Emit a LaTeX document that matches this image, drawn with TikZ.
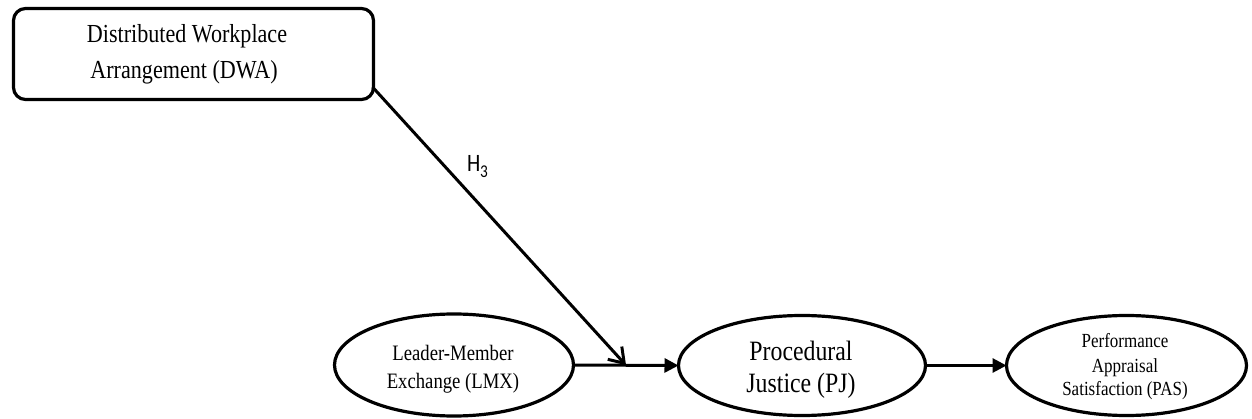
\documentclass[tikz,border=0pt]{standalone}
\usepackage{fontspec}
\usetikzlibrary{arrows.meta,calc,shapes.geometric}
\newfontfamily\tnrfont[FakeStretch=0.85]{Liberation Serif}
\newfontfamily\calfont[FakeStretch=0.85]{Carlito}
\begin{document}
\begin{tikzpicture}[x=1pt,y=-1pt,
  every node/.style={inner sep=0pt, outer sep=0pt},
  box/.style={draw, line width=3.2pt, rounded corners=12pt, minimum width=360pt, minimum height=91pt},
  ell/.style={draw, ellipse, line width=3.2pt},
  txt/.style={anchor=base, font=\tnrfont},
  conn/.style={line width=3pt},
  filled/.style={-{Triangle[length=14pt,width=14pt]}},
  barb/.style={-{Straight Barb[length=14pt,width=19pt]}}]
\useasboundingbox (0,0) rectangle (1252,419);
% nodes
\node[box] (dwa) at (193.5,54) {};
\node[txt, font=\tnrfont\fontsize{26}{30}\selectfont] (dwa1) at (187,43) {Distributed Workplace};
\node[txt, font=\tnrfont\fontsize{26}{30}\selectfont] (dwa2) at (184,79) {Arrangement (DWA)};

\node[ell, minimum width=239pt, minimum height=102pt] (lmx) at (454,365) {};
\node[txt, font=\tnrfont\fontsize{22}{26}\selectfont] (lmx1) at (453,360) {Leader-Member};
\node[txt, font=\tnrfont\fontsize{22}{26}\selectfont] (lmx2) at (453,388) {Exchange (LMX)};

\node[ell, minimum width=247pt, minimum height=100pt] (pj) at (802,365.5) {};
\node[txt, font=\tnrfont\fontsize{28}{31}\selectfont] (pj1) at (801,360) {Procedural};
\node[txt, font=\tnrfont\fontsize{28}{31}\selectfont] (pj2) at (801,392) {Justice (PJ)};

\node[ell, minimum width=240pt, minimum height=100pt] (pas) at (1126.5,365.5) {};
\node[txt, font=\tnrfont\fontsize{20}{24}\selectfont] (pas1) at (1125,347) {Performance};
\node[txt, font=\tnrfont\fontsize{20}{24}\selectfont] (pas2) at (1125,372) {Appraisal};
\node[txt, font=\tnrfont\fontsize{20}{24}\selectfont] (pas3) at (1125,395) {Satisfaction (PAS)};

% connectors
\coordinate (hit) at ($(lmx.east)!0.5!(pj.west)$);
\coordinate (dwaout) at ($(dwa.east)+(-1,33)$);
\draw[conn, filled] (lmx.east) -- (pj.west);
\draw[conn, filled] (pj.east) -- (pas.west);
\draw[conn, barb] (dwaout) -- (hit);
\node[anchor=base west, font=\calfont\fontsize{25}{28}\selectfont] (h3) at (467,172) {H\raisebox{-6pt}{\fontsize{18}{19}\selectfont 3}};
\end{tikzpicture}
\end{document}
